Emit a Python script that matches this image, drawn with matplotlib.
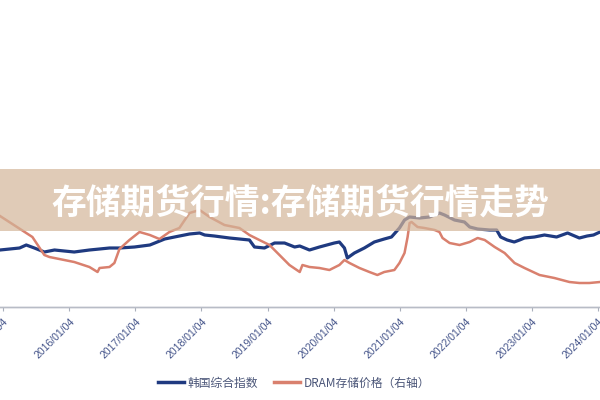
import matplotlib
matplotlib.use("Agg")
import matplotlib.pyplot as plt
import matplotlib.dates as mdates
from matplotlib.lines import Line2D
from matplotlib.patches import Rectangle
import pandas as pd

plt.rcParams['font.family'] = ['Noto Sans CJK SC', 'DejaVu Sans']

title = "存储期货行情:存储期货行情走势"
label_kospi = "韩国综合指数"
label_dram = "DRAM存储价格（右轴）"

kospi_dates = ["2014-12-18", "2015-04-05", "2015-05-12", "2015-06-26", "2015-08-20", "2015-10-15",
               "2015-12-08", "2016-02-01", "2016-04-25", "2016-06-20", "2016-08-14", "2016-10-08",
               "2016-12-30", "2017-03-25", "2017-06-15", "2017-08-08", "2017-10-30", "2017-12-25",
               "2018-01-22", "2018-03-16", "2018-06-08", "2018-08-02", "2018-09-26", "2018-10-24",
               "2018-12-18", "2019-02-12", "2019-04-08", "2019-06-03", "2019-07-01", "2019-08-24",
               "2019-10-18", "2020-01-08", "2020-02-05", "2020-03-04", "2020-03-20", "2020-04-28",
               "2020-06-22", "2020-08-16", "2020-10-10", "2020-11-19", "2021-01-02", "2021-01-30",
               "2021-02-27", "2021-04-23", "2021-06-17", "2021-08-11", "2021-09-08", "2021-11-02",
               "2021-12-27", "2022-01-25", "2022-03-10", "2022-05-15", "2022-06-23", "2022-07-15",
               "2022-08-20", "2022-09-28", "2022-10-28", "2022-11-24", "2023-01-18", "2023-03-14",
               "2023-05-20", "2023-07-20", "2023-09-23", "2023-11-05", "2023-12-10", "2024-01-15"]
kospi_values = [2140, 2180, 2240, 2180, 2100, 2140,
                2120, 2100, 2140, 2160, 2180, 2180,
                2200, 2240, 2360, 2400, 2460, 2480,
                2440, 2420, 2380, 2360, 2340, 2200,
                2180, 2280, 2280, 2200, 2220, 2140,
                2200, 2280, 2300, 2180, 1980, 2080,
                2180, 2300, 2360, 2400, 2580, 2740,
                2800, 2780, 2800, 2880, 2840, 2740,
                2700, 2600, 2560, 2540, 2540, 2400,
                2340, 2300, 2340, 2380, 2400, 2440,
                2400, 2480, 2380, 2420, 2440, 2500]

dram_dates = ["2014-12-18", "2015-06-15", "2015-08-20", "2015-09-17", "2015-12-08", "2016-02-01",
              "2016-04-25", "2016-06-09", "2016-06-20", "2016-08-14", "2016-09-10", "2016-10-08",
              "2016-12-02", "2017-01-27", "2017-03-25", "2017-05-17", "2017-07-11", "2017-09-04",
              "2017-10-30", "2017-12-25", "2018-02-18", "2018-05-11", "2018-08-02", "2018-09-26",
              "2018-11-20", "2019-01-15", "2019-03-11", "2019-05-05", "2019-07-01", "2019-07-16",
              "2019-08-24", "2019-10-18", "2019-12-12", "2020-02-05", "2020-03-04", "2020-04-01",
              "2020-05-26", "2020-07-20", "2020-09-02", "2020-10-10", "2020-12-05", "2021-01-02",
              "2021-01-30", "2021-02-16", "2021-02-27", "2021-03-10", "2021-04-12", "2021-05-20",
              "2021-07-15", "2021-08-11", "2021-08-28", "2021-10-06", "2021-11-30", "2022-01-25",
              "2022-03-10", "2022-04-18", "2022-06-12", "2022-08-06", "2022-09-30", "2022-11-24",
              "2023-02-15", "2023-05-08", "2023-07-30", "2023-09-23", "2023-11-17", "2024-01-15"]
dram_values = [4.55, 3.5, 2.6, 2.5, 2.35, 2.25,
               2.0, 1.75, 1.95, 2.0, 2.2, 2.9,
               3.35, 3.75, 3.6, 3.4, 3.75, 3.95,
               4.7, 4.85, 4.5, 4.1, 3.95, 3.6,
               3.35, 3.1, 2.6, 2.1, 1.75, 2.1,
               2.0, 1.95, 1.85, 2.1, 2.35, 2.2,
               1.95, 1.75, 1.6, 1.75, 1.85, 2.2,
               2.7, 3.5, 4.2, 4.25, 4.0, 3.95,
               3.85, 3.75, 3.45, 3.2, 3.1, 3.25,
               3.45, 3.35, 3.0, 2.7, 2.2, 1.95,
               1.6, 1.45, 1.25, 1.2, 1.2, 1.25]

tick_dates = ["2015-01-04", "2016-01-04", "2017-01-04", "2018-01-04", "2019-01-04",
              "2020-01-04", "2021-01-04", "2022-01-04", "2023-01-04", "2024-01-04"]

BLUE = "#1f3a80"
RED = "#d9806e"
TICK_TXT = "#44548a"

fig = plt.figure(figsize=(6, 4), dpi=100)
ax = fig.add_axes([0.0, 0.2325, 1.0, 0.3425])
ax2 = ax.twinx()

kd = pd.to_datetime(kospi_dates)
dd = pd.to_datetime(dram_dates)
ax.plot(kd, kospi_values, color=BLUE, lw=2.3, zorder=3)
ax2.plot(dd, dram_values, color=RED, lw=1.8, zorder=2)

ax.set_xlim(pd.Timestamp("2014-12-18"), pd.Timestamp("2024-01-15"))
ax.set_ylim(1000, 3740)
ax2.set_ylim(0, 6.85)

ticks = pd.to_datetime(tick_dates)
ax.set_xticks(ticks)
ax.xaxis.set_major_formatter(mdates.DateFormatter("%Y/%m/%d"))
for lab in ax.get_xticklabels():
    lab.set_rotation(45)
    lab.set_ha('right')
    lab.set_rotation_mode('anchor')
    lab.set_color(TICK_TXT)
    lab.set_fontsize(7.5)
    lab.set_family(['Liberation Sans', 'DejaVu Sans'])
ax.tick_params(axis='x', length=3, color="#aab0bc", pad=4)
ax.set_yticks([])
ax2.set_yticks([])
for a in (ax, ax2):
    for s in ('top', 'left', 'right'):
        a.spines[s].set_visible(False)
    a.spines['bottom'].set_color("#b8bcc6")
    a.spines['bottom'].set_linewidth(1.0)
    a.set_facecolor('none')

handles = [Line2D([], [], color=BLUE, lw=2.5), Line2D([], [], color=RED, lw=2.5)]
leg = fig.legend(handles, [label_kospi, label_dram], loc='center',
                 bbox_to_anchor=(0.49, 0.0425), ncol=2, frameon=False,
                 fontsize=8.5, handlelength=2.2, handletextpad=0.3, columnspacing=1.4)
for t in leg.get_texts():
    t.set_color("#4a5578")

# banner overlay
fig.patches.append(Rectangle((0, 0.4225), 1, 0.155, transform=fig.transFigure,
                             facecolor=(0.826, 0.709, 0.601), alpha=0.7, edgecolor='none', zorder=10))
fig.text(0.5, 0.493, title, ha='center', va='center', color='white', fontsize=25,
         fontweight='bold', zorder=11)

fig.savefig("out.png", dpi=100)
